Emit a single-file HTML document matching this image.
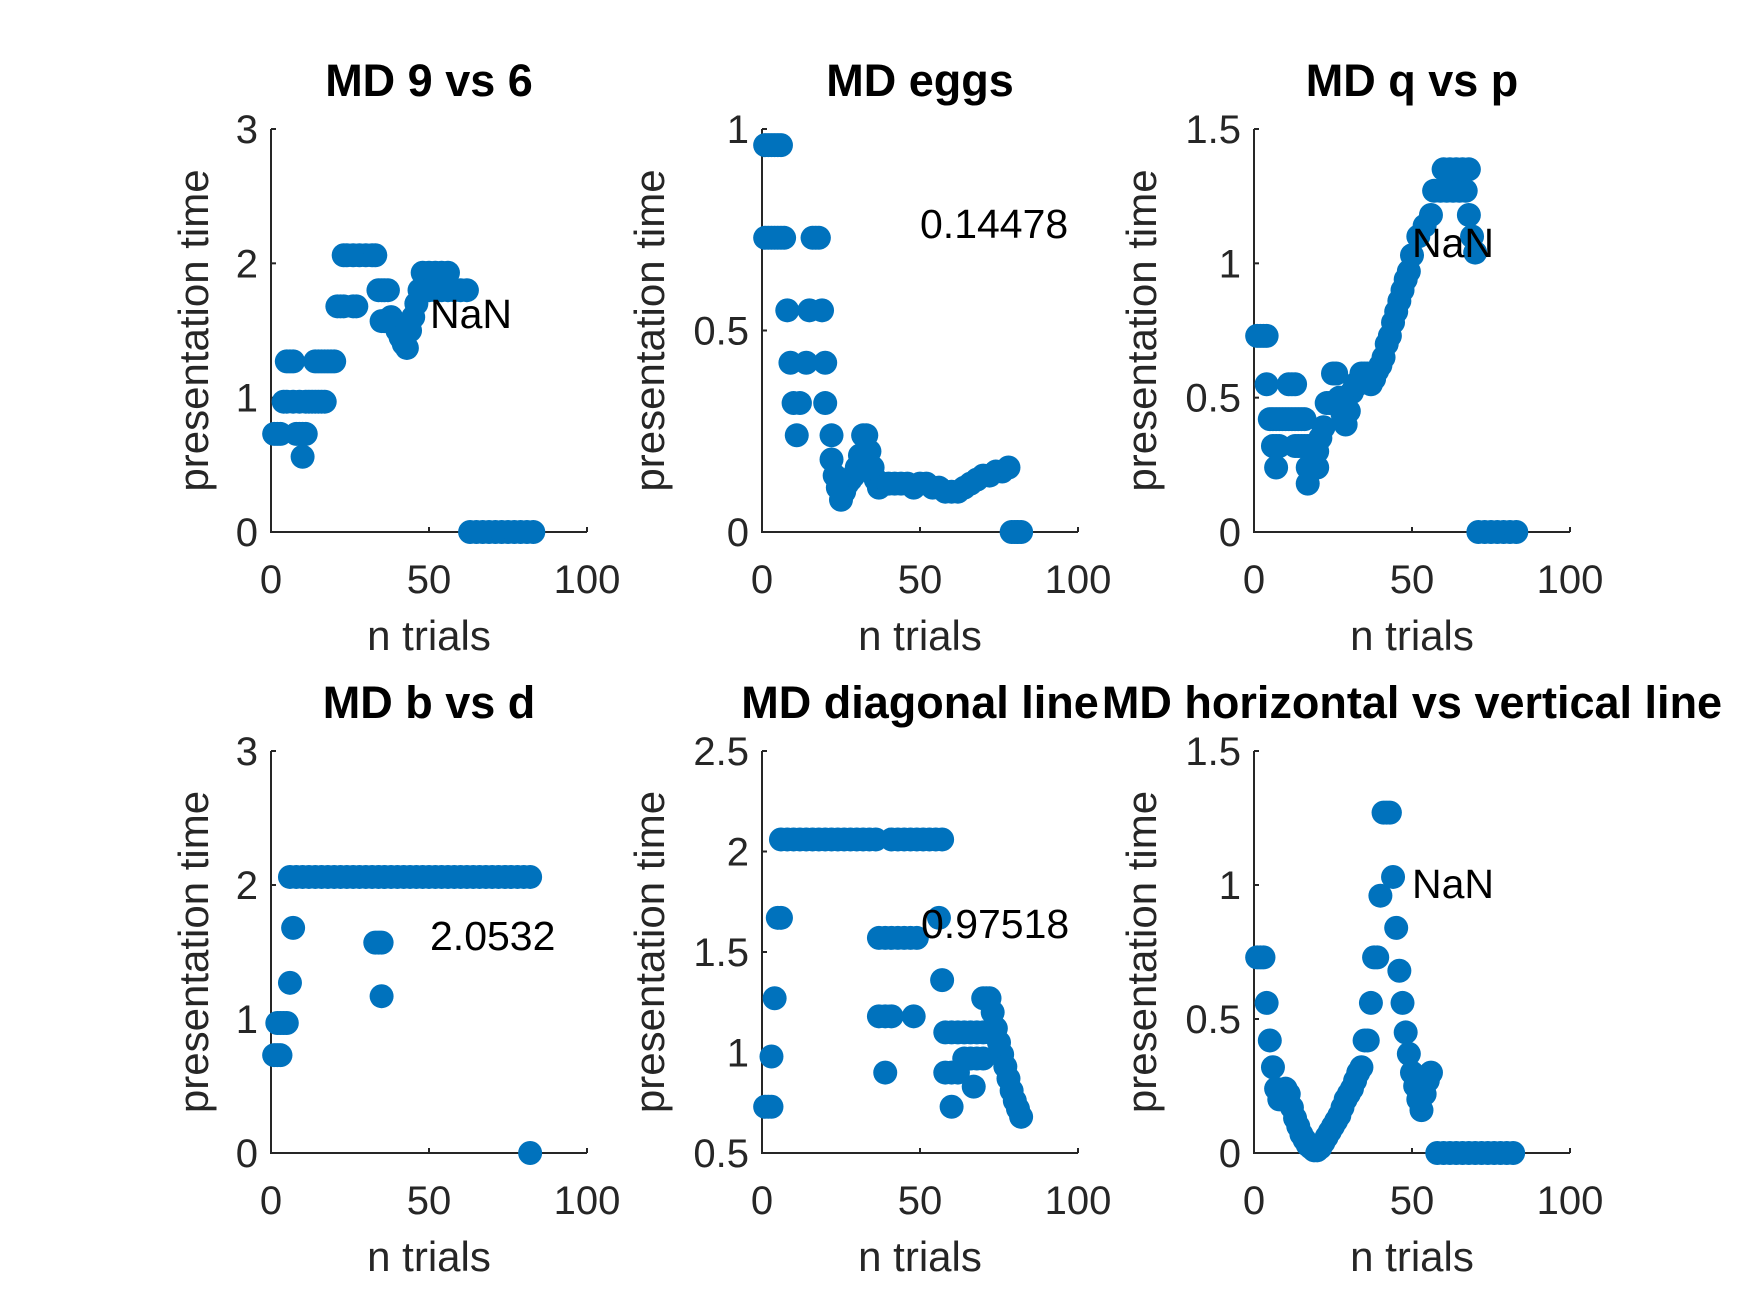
<!DOCTYPE html>
<html><head><meta charset="utf-8"><style>
html,body{margin:0;padding:0;background:#fff;}
svg{display:block;font-family:"Liberation Sans",Arial,sans-serif;}
</style></head><body>
<svg id="fig" width="1750" height="1313" viewBox="0 0 1750 1313" xmlns="http://www.w3.org/2000/svg"></svg>
<script>
// ---- data (x = trial, y = presentation time) ----
const p1x=[1,2,3,4,5,5,6,7,7,8,9,10,10,11,9,11,12,13,14,15,16,17,14,15,16,17,18,19,20,21,22,23,26,27,23,24,26,28,30,32,33,34,35,36,37,35,36,38,39,40,41,42,43,44,45,46,47,48,50,52,54,56,50,52,54,56,58,60,62,63,65,67,69,71,73,75,77,79,81,83];
const p1y=[.73,.73,.73,.97,.97,1.27,1.27,1.27,.97,.73,.73,.56,.73,.73,.97,.97,.97,.97,.97,.97,.97,.97,1.27,1.27,1.27,1.27,1.27,1.27,1.27,1.68,1.68,1.68,1.68,1.68,2.06,2.06,2.06,2.06,2.06,2.06,2.06,1.8,1.8,1.8,1.8,1.57,1.57,1.6,1.55,1.5,1.45,1.4,1.37,1.5,1.6,1.7,1.8,1.93,1.93,1.93,1.93,1.93,1.8,1.8,1.8,1.8,1.8,1.8,1.8,0,0,0,0,0,0,0,0,0,0,0];
const p2x=[1,2,3,4,5,6,1,2,3,4,5,6,7,16,17,18,8,15,19,9,14,20,10,12,20,11,22,22,23,24,25,26,27,28,29,30,31,32,33,34,35,36,37,38,40,42,44,46,48,50,52,54,56,58,60,62,64,66,68,70,72,74,76,78,79,80,81,82];
const p2y=[.96,.96,.96,.96,.96,.96,.73,.73,.73,.73,.73,.73,.73,.73,.73,.73,.55,.55,.55,.42,.42,.42,.32,.32,.32,.24,.24,.18,.14,.11,.08,.1,.12,.13,.14,.16,.19,.24,.24,.2,.16,.13,.11,.12,.12,.12,.12,.12,.11,.12,.12,.11,.11,.1,.1,.1,.11,.12,.13,.14,.14,.15,.15,.16,0,0,0,0];
const p3x=[1,2,3,4,4,11,12,13,5,6,7,8,9,10,11,12,13,14,15,16,6,7,8,13,14,15,16,17,18,19,7,17,18,19,20,17,18,19,20,21,22,23,24,25,26,27,28,29,30,31,32,33,34,35,36,37,38,39,40,41,42,43,44,45,46,47,48,49,50,52,54,56,57,59,61,63,65,67,68,60,62,64,66,68,69,70,71,73,75,77,79,81,83];
const p3y=[.73,.73,.73,.73,.55,.55,.55,.55,.42,.42,.42,.42,.42,.42,.42,.42,.42,.42,.42,.42,.32,.32,.32,.32,.32,.32,.32,.32,.32,.32,.24,.24,.24,.24,.24,.18,.25,.3,.3,.35,.39,.48,.48,.59,.59,.5,.44,.4,.45,.52,.55,.55,.59,.59,.59,.55,.57,.6,.62,.65,.7,.73,.78,.82,.86,.9,.94,.97,1.03,1.1,1.14,1.18,1.27,1.27,1.27,1.27,1.27,1.27,1.18,1.35,1.35,1.35,1.35,1.35,1.1,1.04,0,0,0,0,0,0,0,0];
const p4x=[1,2,3,2,3,4,5,6,7,6,8,10,12,14,16,18,20,22,24,26,28,30,32,34,36,38,40,42,44,46,48,50,52,54,56,58,60,62,64,66,68,70,72,74,76,78,80,82,33,34,35,35,82];
const p4y=[.73,.73,.73,.97,.97,.97,.97,1.27,1.68,2.06,2.06,2.06,2.06,2.06,2.06,2.06,2.06,2.06,2.06,2.06,2.06,2.06,2.06,2.06,2.06,2.06,2.06,2.06,2.06,2.06,2.06,2.06,2.06,2.06,2.06,2.06,2.06,2.06,2.06,2.06,2.06,2.06,2.06,2.06,2.06,2.06,2.06,2.06,1.57,1.57,1.57,1.17,0];
const p5x=[1,2,3,3,4,5,6,6,8,10,12,14,16,18,20,22,24,26,28,30,32,34,36,41,43,45,47,49,51,53,55,57,37,39,41,43,45,47,49,37,39,41,48,39,56,57,58,60,62,64,66,68,70,72,64,66,68,70,58,60,62,67,60,70,71,72,73,74,75,76,77,78,79,80,81,82];
const p5y=[.73,.73,.73,.98,1.27,1.67,1.67,2.06,2.06,2.06,2.06,2.06,2.06,2.06,2.06,2.06,2.06,2.06,2.06,2.06,2.06,2.06,2.06,2.06,2.06,2.06,2.06,2.06,2.06,2.06,2.06,2.06,1.57,1.57,1.57,1.57,1.57,1.57,1.57,1.18,1.18,1.18,1.18,.9,1.67,1.36,1.1,1.1,1.1,1.1,1.1,1.1,1.1,1.1,.97,.97,.97,.97,.9,.9,.9,.83,.73,1.27,1.27,1.27,1.2,1.12,1.05,.99,.93,.87,.81,.76,.72,.68];
const p6x=[1,2,3,4,5,6,7,8,9,10,11,12,13,14,15,16,17,18,19,20,21,22,23,24,25,26,27,28,29,30,31,32,33,34,35,36,37,38,39,40,41,42,43,44,45,46,47,48,49,50,51,52,53,54,55,56,58,60,62,64,66,68,70,72,74,76,78,80,82];
const p6y=[.73,.73,.73,.56,.42,.32,.24,.2,.22,.24,.22,.17,.13,.1,.07,.05,.03,.02,.01,.01,.02,.04,.06,.08,.1,.12,.14,.17,.2,.22,.24,.27,.3,.32,.42,.42,.56,.73,.73,.96,1.27,1.27,1.27,1.03,.84,.68,.56,.45,.37,.3,.25,.2,.16,.22,.27,.3,0,0,0,0,0,0,0,0,0,0,0,0,0];
const titles=["MD 9 vs 6","MD eggs","MD q vs p","MD b vs d","MD diagonal line","MD horizontal vs vertical line"];
const notes=["NaN","0.14478","NaN","2.0532","0.97518","NaN"];
const yTicks=[["0","1","2","3"],["0","0.5","1"],["0","0.5","1","1.5"],["0","1","2","3"],["0.5","1","1.5","2","2.5"],["0","0.5","1","1.5"]];
const xTicks=["0","50","100"];

const NS="http://www.w3.org/2000/svg";
const svg=document.getElementById('fig');
function mk(tag,attrs,parent){const e=document.createElementNS(NS,tag);for(const k in attrs)e.setAttribute(k,attrs[k]);(parent||svg).appendChild(e);return e;}
const lefts=[271,762,1254];
const layout=[];
for(let r=0;r<2;r++)for(let c=0;c<3;c++)layout.push({l:lefts[c],r:lefts[c]+316,t:r?751:129,b:r?1153:532});
const notePos=[[430,328],[920,238],[1412,257],[430,950],[921,938],[1412,898]];
const xs=[p1x,p2x,p3x,p4x,p5x,p6x], ys=[p1y,p2y,p3y,p4y,p5y,p6y];
for(let i=0;i<6;i++){
  const L=layout[i];
  const g=mk('g',{});
  
  
  const yt=yTicks[i].map(Number);
  const ymin=yt[0], ymax=yt[yt.length-1];
  const sx=v=>L.l+(v/100)*(L.r-L.l);
  const sy=v=>L.b-(v-ymin)/(ymax-ymin)*(L.b-L.t);
  const ax=mk('path',{d:`M${L.l} ${L.t}V${L.b}H${L.r}`,fill:'none',stroke:'#262626','stroke-width':2},g);
  
  
  yTicks[i].forEach(t=>{
    const y=sy(+t);
    mk('line',{x1:L.l,x2:L.l+5,y1:y,y2:y,stroke:'#262626','stroke-width':2},g);
    const tx=mk('text',{x:L.l-13,y:y+14,'text-anchor':'end','font-size':40,fill:'#262626'},g);
    tx.textContent=t;
    
    
  });
  xTicks.forEach(t=>{
    const x=sx(+t);
    mk('line',{x1:x,x2:x,y1:L.b,y2:L.b-5,stroke:'#262626','stroke-width':2},g);
    const tx=mk('text',{x:x,y:L.b+61,'text-anchor':'middle','font-size':40,fill:'#262626'},g);
    tx.textContent=t;
    
    
  });
  const cx=(L.l+L.r)/2;
  const xl=mk('text',{x:cx,y:L.b+118,'text-anchor':'middle','font-size':42,fill:'#262626'},g);
  xl.textContent='n trials';
  
  
  const wide=yTicks[i].some(t=>t.length>1);
  const ylx=L.l-(wide?98:63), yly=(L.t+L.b)/2;
  const yl=mk('text',{x:ylx,y:yly,'text-anchor':'middle','font-size':42,fill:'#262626',transform:`rotate(-90 ${ylx} ${yly})`},g);
  yl.textContent='presentation time';
  
  
  const ti=mk('text',{x:cx,y:L.t-33,'text-anchor':'middle','font-size':45,'font-weight':'bold',fill:'#000'},g);
  ti.textContent=titles[i];
  
  
  for(let k=0;k<xs[i].length;k++){
    const c=mk('circle',{cx:sx(xs[i][k]),cy:sy(ys[i][k]),r:12,fill:'#0072BD'},g);
    
    
  }
  const n=mk('text',{x:notePos[i][0],y:notePos[i][1],'font-size':41,fill:'#000'},g);
  n.textContent=notes[i];
  
  
}
</script>
</body></html>
